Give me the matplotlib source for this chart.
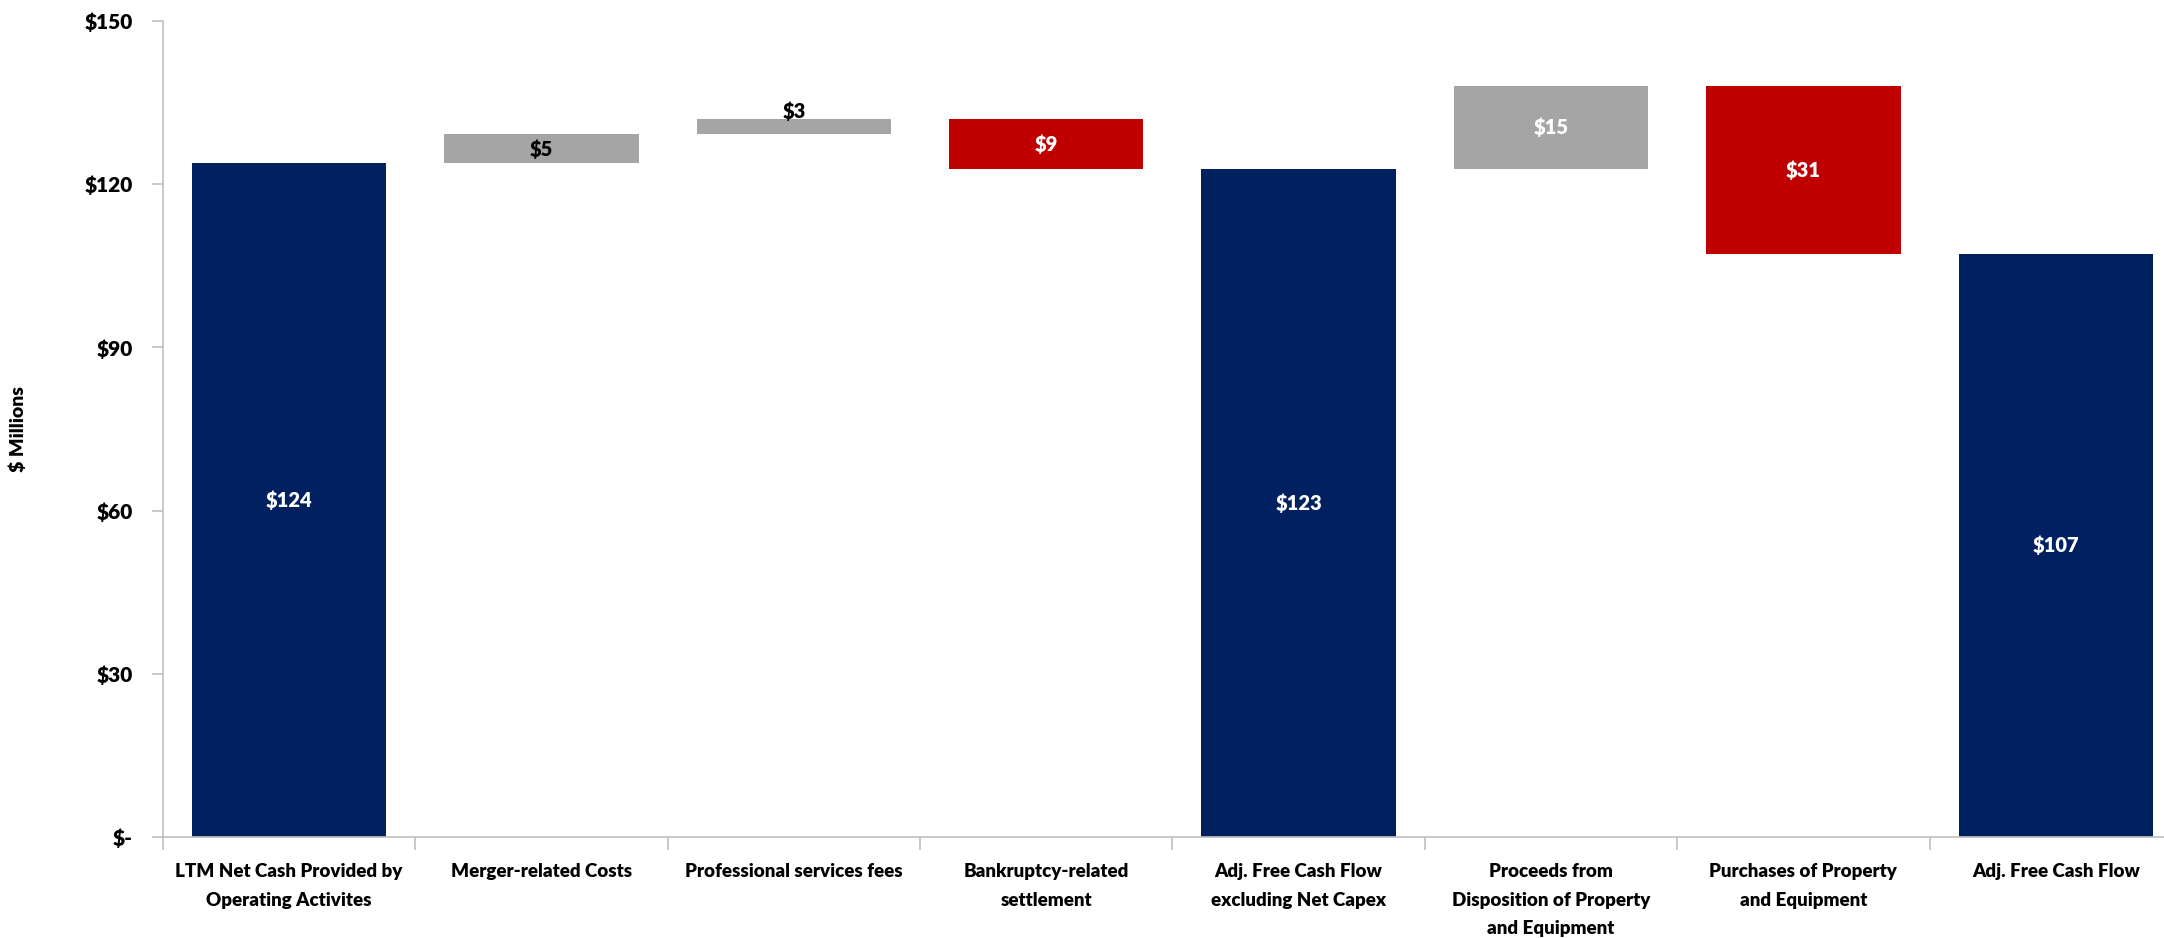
import numpy as np
import matplotlib
matplotlib.use('Agg')
import matplotlib.pyplot as plt

# waterfall data ($ millions)
labels = ['LTM Net Cash Provided by\nOperating Activites', 'Merger-related Costs',
          'Professional services fees', 'Bankruptcy-related\nsettlement',
          'Adj. Free Cash Flow\nexcluding Net Capex', 'Proceeds from\nDisposition of Property\nand Equipment',
          'Purchases of Property\nand Equipment', 'Adj. Free Cash Flow']
values = [123.8, 5.4, 2.8, -9.2, 122.8, 15.2, -30.8, 107.2]
kinds = ['total', 'up', 'up', 'down', 'total', 'up', 'down', 'total']

colors = {'total': '#002060', 'up': '#A5A5A5', 'down': '#C00000'}
label_colors = ['white', 'black', 'black', 'white', 'white', 'white', 'white', 'white']

plt.rcParams['font.family'] = ['Lato', 'DejaVu Sans']
plt.rcParams['font.weight'] = 'heavy'
W = 'heavy'

fig = plt.figure(figsize=(21.64, 9.38), dpi=100)
ax = fig.add_axes([0.0753, 0.1077, 0.933, 0.870])

# build bottoms / heights from running total
bottoms, heights = [], []
running = 0
for v, k in zip(values, kinds):
    if k == 'total':
        bottoms.append(0)
        heights.append(v)
        running = v
    elif v >= 0:
        bottoms.append(running)
        heights.append(v)
        running += v
    else:
        bottoms.append(running + v)
        heights.append(-v)
        running += v

x = np.arange(len(labels))
ax.bar(x, heights, bottom=bottoms, width=0.77,
       color=[colors[k] for k in kinds], zorder=2)

# value labels
for i in range(len(x)):
    txt = '$%d' % round(abs(values[i]))
    if i == 2:
        # small bar, label sits on top
        ax.text(x[i], bottoms[i] + heights[i] + 1.4, txt, ha='center', va='center',
                color='black', fontsize=14.5, fontweight=W)
    else:
        ax.text(x[i], bottoms[i] + heights[i] / 2, txt, ha='center', va='center',
                color=label_colors[i], fontsize=14.5, fontweight=W)

ax.set_xlim(-0.5, len(labels) - 0.5)
ax.set_ylim(0, 150)
ax.set_yticks([0, 30, 60, 90, 120, 150])
ax.set_yticklabels(['$-', '$30', '$60', '$90', '$120', '$150'], fontsize=15, fontweight=W)
ax.set_xticks(x)
ax.set_xticklabels(labels, fontsize=13.5, fontweight=W, linespacing=1.8)
ax.set_xticks(np.arange(len(labels) + 1) - 0.5, minor=True)
ax.tick_params(axis='x', which='major', length=0, pad=19)
ax.tick_params(axis='x', which='minor', length=9, color='#BFBFBF', width=1.2)
ax.tick_params(axis='y', length=8, color='#BFBFBF', width=1.2, pad=14)

for s in ['top', 'right']:
    ax.spines[s].set_visible(False)
for s in ['left', 'bottom']:
    ax.spines[s].set_color('#BFBFBF')
    ax.spines[s].set_linewidth(1.2)

ax.set_ylabel('$ Millions', fontsize=14, fontweight=W)
ax.yaxis.set_label_coords(-0.0674, 0.5)

plt.savefig('out.png', dpi=100)
